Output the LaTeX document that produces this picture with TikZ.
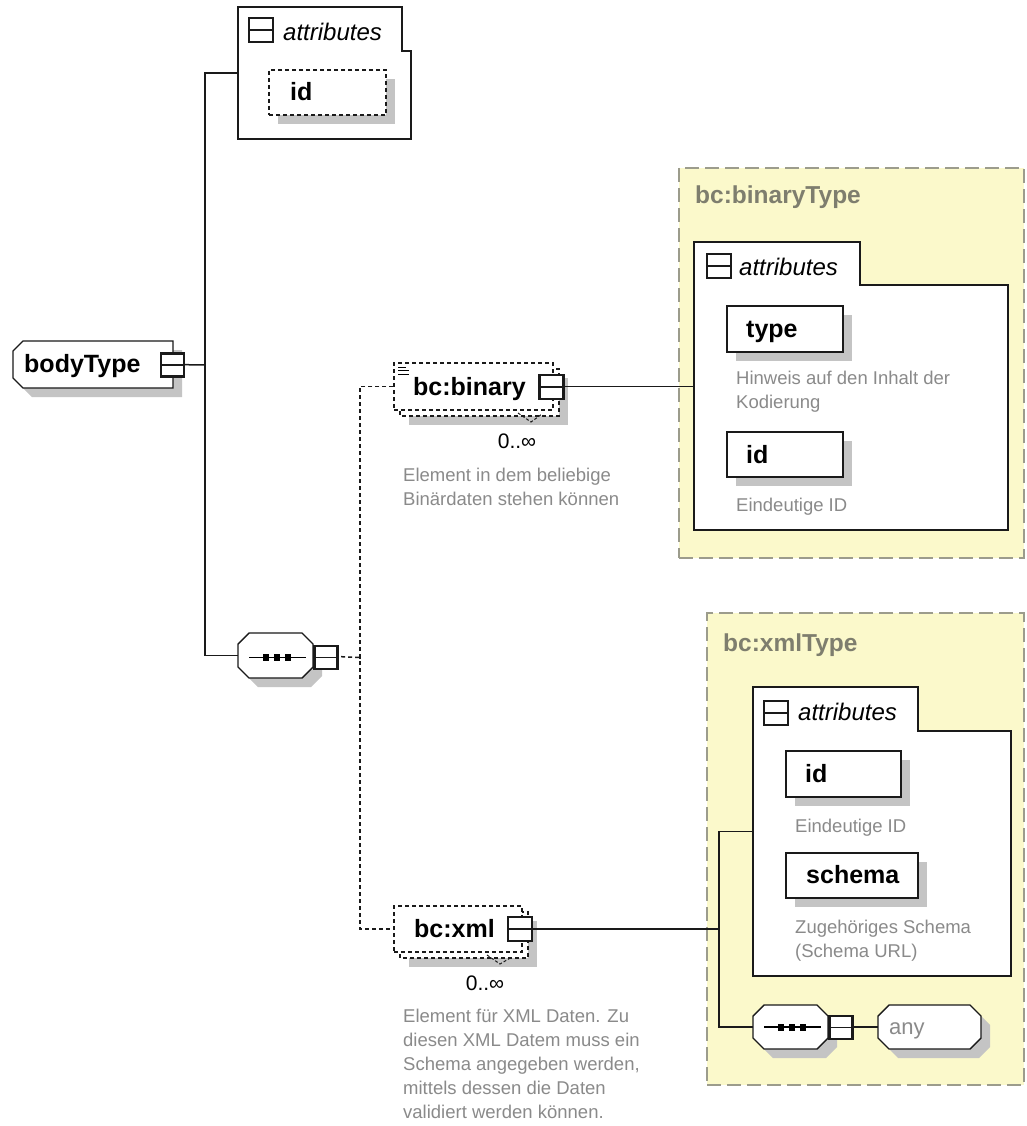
\documentclass[tikz,border=0pt]{standalone}
\usepackage{fontspec}
\setmainfont{Liberation Sans}
\usetikzlibrary{calc}

\definecolor{shade}{HTML}{C4C4C4}
\definecolor{typebg}{HTML}{FBF9CB}
\definecolor{typeline}{HTML}{9C9C8C}
\definecolor{typetext}{HTML}{7E7E6E}
\definecolor{doctext}{HTML}{8A8A8A}
\definecolor{ink}{HTML}{1A1A1A}

% octagon between (x1,y1) and (x2,y2) with corner cut c
\newcommand\octpath[5]{(#1+#5,#2) -- (#3-#5,#2) -- (#3,#2+#5) -- (#3,#4-#5) -- (#3-#5,#4) -- (#1+#5,#4) -- (#1,#4-#5) -- (#1,#2+#5) -- cycle}

\begin{document}
\begin{tikzpicture}[x=1pt,y=-1pt,
  edge/.style={draw=ink, line width=1.5pt},
  optedge/.style={edge, dash pattern=on 4pt off 3pt},
  frame/.style={draw=ink, line width=1.4pt, fill=white},
  optframe/.style={frame, dash pattern=on 4pt off 3pt},
  spot/.style={rectangle, inner sep=0pt, draw=none},
  box/.style={frame, rectangle, inner sep=0pt},
  optbox/.style={optframe, rectangle, inner sep=0pt},
  shadowfill/.style={fill=shade},
  toggle/.style={rectangle, draw=ink, line width=2.3pt, fill=white, minimum size=23pt, inner sep=0pt,
    path picture={\draw[line width=1.3pt] (path picture bounding box.west) -- (path picture bounding box.east);}},
  elname/.style={font=\fontsize{25}{29}\selectfont\bfseries, inner sep=0pt, anchor=base west},
  grptitle/.style={font=\fontsize{24}{28}\selectfont\itshape, inner sep=0pt, anchor=base west},
  typetitle/.style={font=\fontsize{24.5}{28}\selectfont\bfseries, text=typetext, inner sep=0pt, anchor=base west},
  doc/.style={font=\fontsize{18.5}{24}\selectfont, text=doctext, inner sep=0pt, align=left, anchor=north west},
  card/.style={font=\fontsize{21}{24}\selectfont, inner sep=0pt, anchor=base},
  typebox/.style={rectangle, inner sep=0pt, fill=typebg, draw=typeline, line width=1.2pt, dash pattern=on 14pt off 6pt},
  squiggle/.style={draw=ink, line width=1pt, dash pattern=on 3pt off 2pt},
  seqmark/.pic={
    \draw[line width=1.4pt] (-28.5,0) -- (28.5,0);
    \fill (-14.5,-3.5) rectangle (-8.5,3.5);
    \fill (-3.5,-3.5) rectangle (2.5,3.5);
    \fill (7.5,-3.5) rectangle (13.5,3.5);
  }]
\useasboundingbox (0,0) rectangle (1027,1126);
\fill[white] (0,0) rectangle (1027,1126);

% ---------- complex type panels ----------
\node[typebox, minimum width=345pt, minimum height=390pt] (bintype) at (851.5,363) {};
\node[typetitle] (bintypetitle) at (695,204) {bc:binaryType};
\node[typebox, minimum width=317pt, minimum height=472pt] (xmltype) at (865.5,849) {};
\node[typetitle] (xmltypetitle) at (723,651) {bc:xmlType};

% ---------- bodyType root ----------
\node[spot, minimum width=160pt, minimum height=47pt] (body) at (93,364.5) {};
\fill[shadowfill, shift={(9,9)}] (23,341) -- (173,341) -- (173,388) -- (23,388) -- (13,378) -- (13,351) -- cycle;
\draw[frame] (23,341) -- (173,341) -- (173,388) -- (23,388) -- (13,378) -- (13,351) -- cycle;
\node[elname] (bodytext) at (24,372) {bodyType};

% ---------- attributes of bodyType ----------
\node[spot, minimum width=173pt, minimum height=132pt] (attrA) at (324.5,73) {};
\draw[frame] (238,7) -- (402,7) -- (402,51) -- (411,51) -- (411,139) -- (238,139) -- cycle;
\node[toggle, minimum size=24pt] (attrAtog) at (261,30) {};
\node[grptitle] (attrAtitle) at (283,41) {attributes};
\fill[shadowfill] (278,79) rectangle (395,124);
\node[optbox, minimum width=117pt, minimum height=45pt] (idA) at (327.5,92.5) {};
\node[elname] (idAtext) at (290,101) {id};

% ---------- sequence under bodyType ----------
\node[spot, minimum width=75pt, minimum height=45pt] (seq1) at (275.5,655.5) {};
\fill[shadowfill, shift={(9,9)}] \octpath{238}{633}{313}{678}{11};
\draw[frame] \octpath{238}{633}{313}{678}{11};
\pic at (277.5,657.5) {seqmark};

% ---------- bc:binary ----------
\fill[shadowfill] (409,378) rectangle (568,425);
\draw[optframe] (400,369) rectangle (559,416);
\node[optbox, minimum width=159pt, minimum height=47pt] (bin) at (473.5,386.5) {};
\draw[squiggle] (518,413) -- (531,422) -- (542,414);
\draw[line width=1pt] (398,367) -- (406,367) (398,370.5) -- (409,370.5) (398,374) -- (409,374);
\node[elname] (bintext) at (413,395) {bc:binary};
\node[card] (bincard) at (517,448) {0..∞};
\node[doc] (bindoc) at (403,468) {Element in dem beliebige\\Binärdaten stehen können};

% ---------- attributes of bc:binaryType ----------
\node[spot, minimum width=314pt, minimum height=288pt] (attrB) at (851,386) {};
\draw[frame] (694,242) -- (860,242) -- (860,285) -- (1008,285) -- (1008,530) -- (694,530) -- cycle;
\node[toggle, minimum size=24pt] (attrBtog) at (719,266) {};
\node[grptitle] (attrBtitle) at (739,275) {attributes};
\fill[shadowfill] (736,315) rectangle (852,361);
\node[box, minimum width=116pt, minimum height=46pt] (typeB) at (785,329) {};
\node[elname] (typeBtext) at (746,337) {type};
\node[doc] (typeBdoc) at (736,371) {Hinweis auf den Inhalt der\\Kodierung};
\fill[shadowfill] (736,441) rectangle (852,486);
\node[box, minimum width=116pt, minimum height=45pt] (idB) at (785,454.5) {};
\node[elname] (idBtext) at (746,463) {id};
\node[doc] (idBdoc) at (736,498) {Eindeutige ID};

% ---------- bc:xml ----------
\fill[shadowfill] (409,921) rectangle (537,967);
\draw[optframe] (400,912) rectangle (528,958);
\node[optbox, minimum width=128pt, minimum height=46pt] (xml) at (458,929) {};
\draw[squiggle] (487,955) -- (500,964) -- (512,957);
\node[elname] (xmltext) at (414,937) {bc:xml};
\node[card] (xmlcard) at (485,990) {0..∞};
\node[doc] (xmldoc) at (403,1009) {Element für XML Daten. Zu\\diesen XML Datem muss ein\\Schema angegeben werden,\\mittels dessen die Daten\\validiert werden können.};

% ---------- attributes of bc:xmlType ----------
\node[spot, minimum width=258pt, minimum height=289pt] (attrC) at (882,831.5) {};
\draw[frame] (753,687) -- (918,687) -- (918,731) -- (1011,731) -- (1011,976) -- (753,976) -- cycle;
\node[toggle, minimum size=24pt] (attrCtog) at (776,713) {};
\node[grptitle] (attrCtitle) at (798,720) {attributes};
\fill[shadowfill] (795,760) rectangle (910,806);
\node[box, minimum width=115pt, minimum height=46pt] (idC) at (843.5,774) {};
\node[elname] (idCtext) at (805,782) {id};
\node[doc] (idCdoc) at (795,819) {Eindeutige ID};
\fill[shadowfill] (795,862) rectangle (927,907);
\node[box, minimum width=132pt, minimum height=45pt] (schemaC) at (852,875.5) {};
\node[elname] (schemaCtext) at (806,883) {schema};
\node[doc] (schemaCdoc) at (795,920) {Zugehöriges Schema\\(Schema URL)};

% ---------- sequence with wildcard ----------
\node[spot, minimum width=75pt, minimum height=44pt] (seq2) at (790.5,1027) {};
\fill[shadowfill, shift={(9,9)}] \octpath{753}{1005}{828}{1049}{11};
\draw[frame] \octpath{753}{1005}{828}{1049}{11};
\pic at (792.5,1027) {seqmark};
\node[spot, minimum width=103pt, minimum height=44pt] (any) at (929.5,1027) {};
\fill[shadowfill, shift={(9,9)}] \octpath{878}{1005}{981}{1049}{11};
\draw[frame] \octpath{878}{1005}{981}{1049}{11};
\node[font=\fontsize{22}{26}\selectfont, text=doctext, inner sep=0pt, anchor=base west] (anytext) at (889,1034) {any};

% ---------- connectors ----------
\coordinate (trunk) at (205,365);
\coordinate (choice) at (360,657.5);
\coordinate (xjoin) at (719,929);
\draw[edge] (body.east) -- (trunk);
\draw[edge] (attrA.west) -| (trunk) |- (seq1.west);
\draw[optedge] (seq1.east) -- (choice);
\draw[optedge] (bin.west) -| (choice) |- (xml.west);
\draw[edge] (bin.east) -- (bin.east -| attrB.west);
\draw[edge] (xml.east) -- (xjoin);
\draw[edge] (attrC.west) -| (xjoin) |- (seq2.west);
\draw[edge] (seq2.east) -- (any.west);

% ---------- collapse toggles ----------
\node[toggle] (bodytog) at (172.5,365) {};
\node[toggle] (seq1tog) at (326,657.5) {};
\node[toggle, minimum size=24pt] (bintog) at (551.5,387) {};
\node[toggle, minimum size=24pt] (xmltog) at (520,929) {};
\node[toggle] (seq2tog) at (841,1027.5) {};
\end{tikzpicture}
\end{document}
